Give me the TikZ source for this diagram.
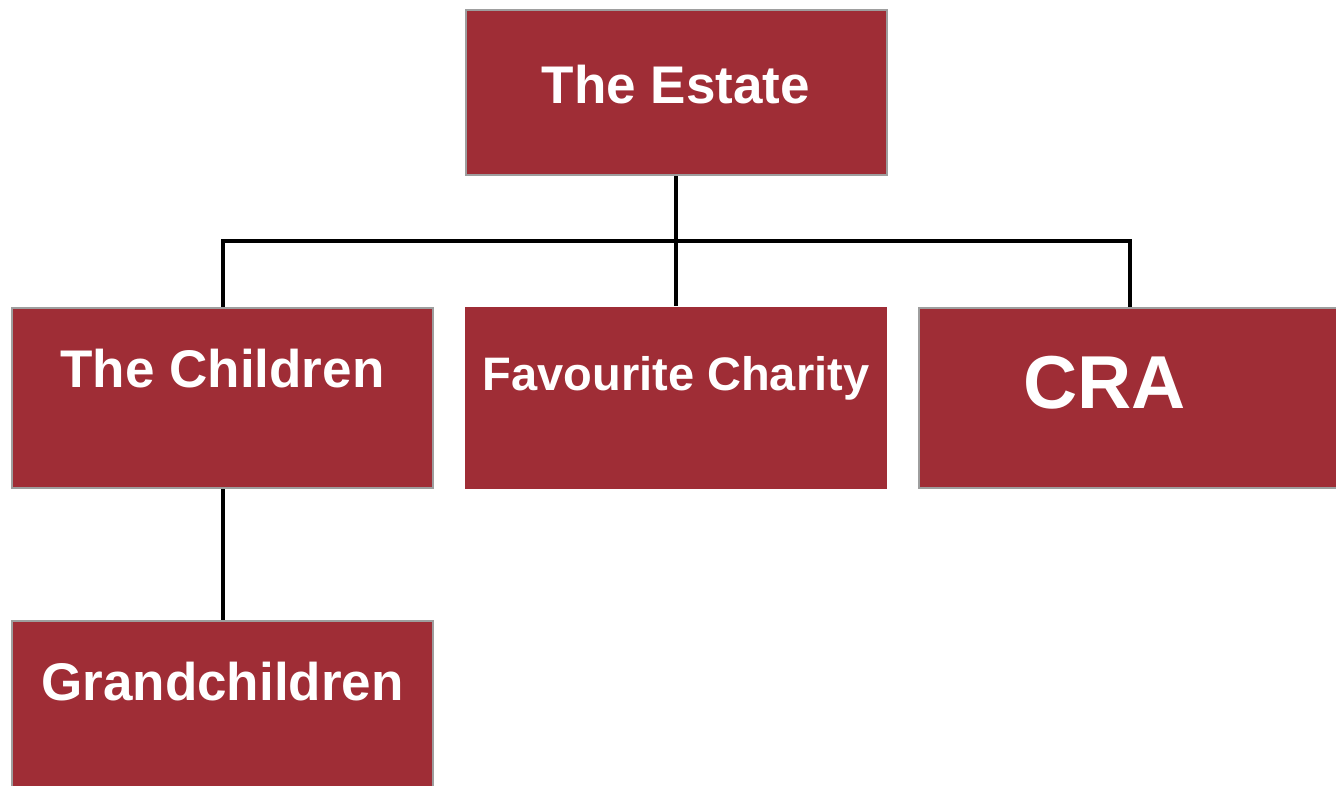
\documentclass[tikz,border=0pt]{standalone}
\usepackage{fontspec}
\setmainfont{Liberation Sans}
\usepackage{tikz}
\usetikzlibrary{positioning}
\definecolor{boxred}{RGB}{159,45,54}
\definecolor{boxrim}{RGB}{158,158,158}

\begin{document}
\begin{tikzpicture}[x=1pt,y=-1pt]
\tikzstyle{box} = [rectangle,fill=boxred,draw=boxrim,line width=2pt,text=white,font=\fontsize{53}{60}\selectfont\bfseries,minimum width=421pt,inner xsep=0pt,inner ysep=0pt];
\tikzstyle{wire} = [line width=4pt,draw=black];
\useasboundingbox (0,0) rectangle (1336,785);

\node [box,minimum height=165pt,text height=93pt,text depth=72pt] (est) at (676,92.5) {The Estate};
\node [box,minimum height=180pt,text height=79pt,text depth=101pt] (child) at (222.5,398) {The Children};
\node [box,draw=none,minimum width=422pt,minimum height=182pt,text height=83pt,text depth=99pt,font=\fontsize{47}{54}\selectfont\bfseries] (char) at (676,398) {Favourite Charity};
\node [box,minimum height=180pt,text height=100pt,text depth=80pt,text width=213pt,align=left,font=\fontsize{75}{80}\selectfont\bfseries] (cra) at (1129.5,398) {CRA};
\node [box,minimum height=180pt,text height=79pt,text depth=101pt] (grand) at (222.5,711) {Grandchildren};

%\draw (est.south) -- (char.north);
\coordinate (bus) at (676,241);
\draw [wire] (est.south) -- (char.north);
\draw [wire] (child.north) -- (child.north |- bus) -- (cra.north |- bus) -- (cra.north);
\draw [wire] (child.south) -- (grand.north);

\end{tikzpicture}
\end{document}
